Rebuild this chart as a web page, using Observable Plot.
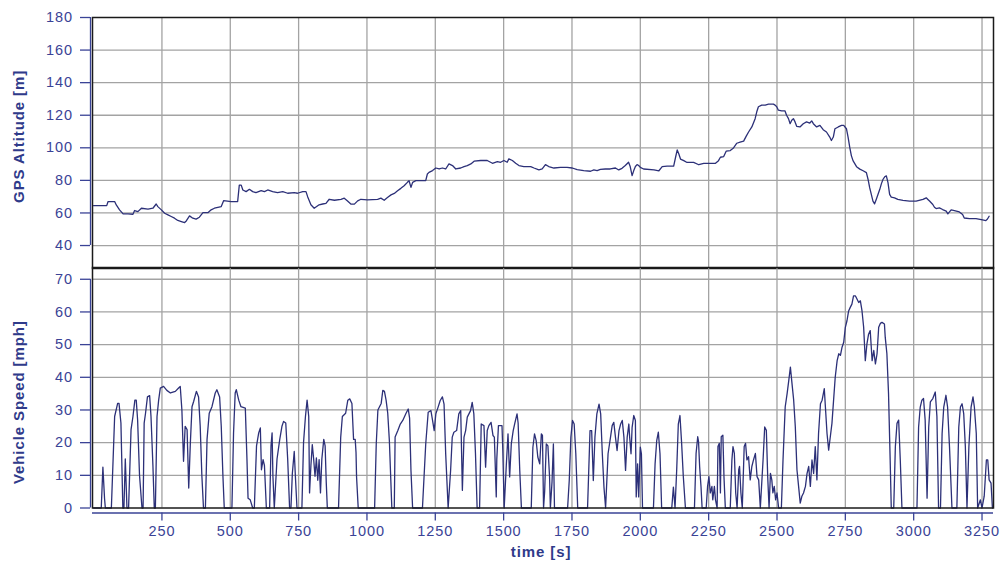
<!DOCTYPE html>
<html><head><meta charset="utf-8">
<script src="https://cdn.jsdelivr.net/npm/d3@7"></script>
<script src="https://cdn.jsdelivr.net/npm/@observablehq/plot@0.6"></script>
<style>
html,body{margin:0;padding:0;background:#fff;}
#wrap{position:relative;width:1001px;height:563px;overflow:hidden;background:#fff;}
#wrap svg{position:absolute;left:0;}
#wrap svg text{letter-spacing:0.9px;}
</style></head><body><div id="wrap"></div>
<script>
// ---- data ----
const timeTicks = [250,500,750,1000,1250,1500,1750,2000,2250,2500,2750,3000,3250];
const altitudeTicks = [40,60,80,100,120,140,160,180];
const speedTicks = [0,10,20,30,40,50,60,70];

// GPS altitude [m] vs time [s]
const altitudeSeries = [
[0,64.5],[48,64.5],[53,67],[77,67],[83,64.9],[95,61.9],[108,59.4],[126,59.4],[144,59.2],[150,61.5],[162,60.8],[175,62.9],[199,62.3],[217,62.9],[229,65.5],[235,63.9],[248,61.9],[260,59.8],[272,58.8],[284,57.8],[296,56.8],[308,55.4],[321,54.7],[333,54.1],[339,55.1],[351,58.2],[363,56.8],[375,56.2],[387,57.4],[400,60.2],[418,60.2],[430,61.9],[442,62.9],[467,63.9],[476,67.6],[503,67],[527,67],[533,77.1],[540,77.1],[546,74.1],[558,73.1],[570,74.5],[582,73.1],[594,72.5],[613,73.7],[625,73.1],[637,74.1],[655,73.1],[673,72.5],[692,73.1],[710,72.1],[734,72.5],[746,72.1],[765,73.1],[777,73.1],[783,70],[795,65],[807,62.9],[825,65],[838,65.5],[850,65.9],[862,68.4],
[881,67.8],[905,68.4],[917,69.1],[929,67.4],[942,65.4],[954,65.4],[966,67.4],[978,68.4],[1002,68],[1039,68.4],[1051,69.1],[1063,67.8],[1075,69.5],[1088,71.1],[1100,72],[1112,73.6],[1124,75.1],[1136,76.7],[1148,78.8],[1154,79.8],[1161,75.7],[1167,78.8],[1179,79.8],[1215,79.8],[1221,83.9],[1227,84.9],[1240,86],[1252,87.6],[1264,87],[1276,87.6],[1288,87],[1300,90.1],[1313,89.1],[1325,87],[1343,87.6],[1355,88.5],[1367,89.1],[1380,90.1],[1392,91.8],[1416,92.2],[1440,92.2],[1459,90.5],[1477,91.5],[1489,91.1],[1501,92.2],[1513,91.1],[1519,93.2],[1532,92.2],[1544,90.5],[1556,89.1],[1574,88.5],[1599,88.5],[1611,87.6],[1629,86.4],[1641,87],[1653,89.7],[1665,88.5],[1684,87.6],[1708,88],[1732,88],[1751,87.6],[1769,86.6],[1793,86],[1818,85.6],[1830,86.4],[1842,86],[1854,86.8],[1872,87],[1890,87],[1909,87.6],[1921,86.4],[1933,87.4],[1945,89.1],[1957,91.1],[1963,88.5],[1970,82.9],[1976,86],[1982,88.5],[1988,89.7],[1994,89.1],[2000,88],[2012,87],
[2050,86.5],[2068,85.9],[2080,88.4],[2098,88.8],[2122,88.8],[2129,94.2],[2135,98.7],[2141,96.2],[2147,93.1],[2159,92.1],[2171,91],[2195,91],[2214,89.6],[2232,90.4],[2256,90.4],[2274,90.4],[2286,92.1],[2293,94.2],[2305,94.6],[2314,97.9],[2329,98.3],[2341,99.9],[2353,102.8],[2365,103.5],[2378,104.1],[2387,107],[2396,109.7],[2408,112.8],[2420,117.9],[2426,122.1],[2432,125.2],[2444,126.2],[2457,126.2],[2469,126.8],[2487,126.8],[2493,126.2],[2499,125.2],[2505,123.1],[2517,122.7],[2529,122.7],[2535,120],[2542,117.9],[2548,114.8],[2554,116.9],[2560,117.9],[2566,115.9],[2572,113.2],[2584,112.8],[2596,114.8],[2608,115.9],[2620,115.2],[2627,116.5],[2633,114.8],[2645,112.8],[2657,113.8],[2669,111.1],[2681,109.7],[2693,106.6],[2699,104.5],[2706,106.6],[2712,111.7],[2724,112.8],[2736,113.8],[2744,113.8],[2754,111.7],[2760,106.6],[2766,100.4],[2772,95.2],[2778,92.1],[2791,88.4],[2803,86.9],[2815,85.9],[2827,84.8],[2833,80.7],[2839,75.5],[2851,67.3],[2857,65.6],[2863,68.3],[2876,74.5],[2882,78],[2888,80.7],[2894,82.2],[2900,82.8],[2906,78.6],[2912,71.4],[2918,69.7],[2930,69.3],[2942,68.3],[2961,67.7],[2985,67.3],[3009,67.3],[3034,68.3],[3046,69.3],[3052,68.3],[3058,67.3],[3070,65.2],[3076,63.5],[3082,62.7],[3094,63.1],[3106,62.1],[3119,61.1],[3125,59.4],[3137,61.9],[3149,61.5],[3167,60.6],[3179,59],[3185,56.9],[3204,56.5],[3228,56.5],[3252,55.7],[3264,55.3],[3270,56.3],[3276,58]
];

// Vehicle speed [mph] vs time [s]
const speedSeries = [
[0,0],[28,0],[34,12.5],[40,3],[43,0],[65,0],[77,28],[88,32],[93,32],[100,26],[107,0],[111,0],[116,15],[122,0],[128,0],[137,24],[144,28],[151,33],[156,33],[161,27],[168,10],[177,0],[181,0],[185,26],[190,29],[197,34],[205,34.4],[210,28],[217,13],[222,0],[226,0],[232,28],[238,33],[244,36.7],[256,37.2],[268,36],[281,35.2],[299,35.7],[311,36.7],[317,37.2],[323,30],[329,14.3],[335,25],[342,24],[348,6.1],[354,20],[360,31],[366,32.6],[376,35.7],[384,34],[390,25],[396,10],[402,0],[409,0],[415,21],[423,29],[433,31],[445,35.2],[451,36.2],[461,34],[467,25],[473,10],[478,0],[506,0],[512,23],[518,35.2],[522,36.2],[531,33],[539,31],[555,30.6],[561,15],[565,3],[573,2.5],[582,0],[588,0],[596,19],[604,23],[610,24.5],[614,11.7],[620,14.8],[625,13],[632,0],[644,0],[649,19],[653,23],[656,9.7],[661,0],[671,15],[681,21],[689,25],[695,26.5],[703,26],[710,15],[717,0],[722,0],[727,10.5],[734,17.3],[738,10],[744,0],[762,0],[768,20],[775,28],[781,33],[787,28],[790,4.6],[795,13],[800,19.4],[805,15],[810,9.7],[815,15.3],[820,8.5],[825,14.8],[830,4.6],[835,15],[842,21],[847,19],[851,8],[855,0],
[896,0],[904,21.7],[910,28],[922,29],[930,33],[937,33.4],[945,32],[951,21],[957,21],[960,17],[962,9.5],[968,0],[1028,0],[1034,19.6],[1040,30],[1046,31],[1052,32],[1058,36],[1064,35.7],[1070,33],[1076,29],[1082,20.6],[1091,0],[1100,0],[1103,21.7],[1113,23.7],[1122,25.7],[1131,26.8],[1143,29],[1151,30.3],[1156,27.5],[1161,11.5],[1167,0],[1203,0],[1215,19.6],[1224,29.3],[1234,29.8],[1240,26.8],[1246,23.7],[1252,28.8],[1260,30.8],[1268,32.9],[1276,34],[1282,31.8],[1288,16.6],[1297,0],[1306,11.5],[1312,21.7],[1318,23.2],[1328,23.7],[1336,28.8],[1343,29.8],[1349,5.4],[1355,21.7],[1361,23.7],[1367,27.8],[1373,28.8],[1379,29.8],[1385,32.3],[1391,28.8],[1397,16.6],[1403,0],[1412,0],[1418,25.7],[1428,25.2],[1434,12.5],[1440,23.7],[1446,25.2],[1454,26.2],[1461,22.2],[1466,21.7],[1473,3.4],[1475,15],[1481,25.2],[1494,25.2],[1497,17.6],[1502,0],[1510,13.5],[1516,22.7],[1522,9.5],[1528,19.6],[1535,23.7],[1541,26],[1549,28.8],[1553,26],[1559,11.5],[1565,0],
[1601,0],[1607,18.6],[1613,22.7],[1619,20.6],[1625,15.6],[1632,13.5],[1638,22.7],[1642,22.2],[1646,0],[1650,5],[1656,19.6],[1662,19],[1668,9.5],[1671,0],[1677,8],[1682,19.6],[1686,0],[1734,0],[1740,8.4],[1746,21.7],[1752,26.8],[1758,25.7],[1764,16.6],[1771,0],[1807,0],[1816,23.7],[1822,23.7],[1828,8.4],[1834,21.7],[1841,28.8],[1849,31.8],[1855,28.8],[1861,16.6],[1867,6.4],[1873,0],[1882,16.6],[1891,21.7],[1897,25.2],[1903,26.2],[1909,21.7],[1915,17.6],[1922,23.7],[1928,25.7],[1934,26.8],[1940,21.7],[1946,11.5],[1952,21.7],[1958,25.7],[1961,21.7],[1966,16.6],[1970,24.7],[1976,28.3],[1982,26.8],[1985,3.4],[1990,13.5],[1994,3.4],[2000,18.6],[2004,16.6],[2008,0],[2048,0],[2054,13.5],[2060,20.6],[2066,23.2],[2072,16.6],[2078,0],[2115,0],[2121,6.4],[2127,0],[2133,11.5],[2139,25.7],[2145,28.3],[2151,20],[2157,10],[2165,0],
[2198,0],[2204,16.7],[2210,21.8],[2213,20.3],[2217,12.7],[2222,6.6],[2226,0],[2241,0],[2246,6.6],[2251,9.6],[2256,4.6],[2262,6.6],[2265,2.5],[2271,6.6],[2275,2.5],[2281,0],[2284,18.8],[2289,19.8],[2293,4.6],[2296,21.8],[2302,22.3],[2306,9.6],[2311,0],[2329,0],[2335,14.7],[2339,18.8],[2344,16.7],[2349,4.6],[2354,0],[2360,11.7],[2363,12.7],[2368,4.6],[2373,0],[2380,18.8],[2385,19.8],[2390,14.7],[2396,15.7],[2402,8.6],[2408,12.7],[2414,14.7],[2421,16.7],[2427,9.6],[2433,8.6],[2439,0],[2449,14.7],[2455,24.8],[2461,23.8],[2466,9.6],[2471,0],[2476,10.6],[2481,8.6],[2485,4.6],[2490,6.6],[2495,2.5],[2500,4.6],[2506,0],[2516,0],[2522,14.7],[2530,30.9],[2537,35],[2543,39],[2549,43.1],[2555,38],[2561,33],[2567,24.8],[2573,11.7],[2579,6.6],[2585,1.5],[2591,3.6],[2597,4.6],[2604,6.6],[2610,10.6],[2616,12.7],[2622,6.6],[2628,14.7],[2634,10.6],[2640,18.8],[2646,8.6],[2652,22.8],[2659,31.9],[2665,33],[2673,36.5],[2677,31],[2683,22.8],[2689,17.7],[2695,21.8],[2701,25.9],[2707,33],[2713,40],[2720,45.1],[2726,47.2],[2732,46.7],[2738,49.2],[2744,50.7],[2750,55.3],[2756,57.3],[2762,60.3],[2768,61.4],[2774,62.4],[2780,64.9],[2787,64.9],[2793,63.9],[2799,62.9],[2805,63.4],[2811,60.3],[2817,55.3],[2823,45.1],[2829,50.2],[2835,53.2],[2841,54.3],[2848,45.1],[2854,48.2],[2860,44.1],[2866,47.2],[2872,55.3],[2878,56.5],[2884,56.8],[2893,56.3],[2896,52.2],[2902,47.2],[2908,35],[2914,14.7],[2918,0],[2927,0],[2933,18.8],[2939,25.9],[2945,26.9],[2951,14.7],[2957,0],[3012,0],[3018,24.8],[3024,30.9],[3030,33],[3036,33.5],[3042,26.9],[3049,3],[3055,24.8],[3061,32.5],[3070,33.5],[3079,35.5],[3085,28],[3091,0],[3098,0],[3104,22.8],[3110,30.9],[3118,34.5],[3124,30.9],[3131,18.8],[3140,0],[3158,0],[3165,24.8],[3171,30.9],[3177,31.9],[3183,28.9],[3189,18.8],[3195,0],[3202,18.8],[3210,30.9],[3217,34],[3222,30.9],[3229,22.8],[3234,0],[3244,2.5],[3250,0],[3258,3.6],[3266,14.7],[3271,14.7],[3276,8.6],[3283,7.6],[3288,0]
];

// ---- styling ----
const lineColor = "#2c3078";
const axisColor = "#3a4396";
const titleColor = "#2f3a8a";
const gridColor = "#a3a3a3";
const fontFamily = "'Liberation Sans', Arial, Helvetica, sans-serif";
const xDomain = [-4, 3292];
const fmt = d => String(d);

const wrap = document.getElementById("wrap");

const topChart = Plot.plot({
  width: 1001, height: 268,
  marginLeft: 92, marginRight: 8, marginTop: 17, marginBottom: 0,
  x: {domain: xDomain, axis: null},
  y: {domain: [25.9, 180], axis: null},
  style: {fontFamily, fontSize: "14.5px", color: axisColor, background: "transparent", overflow: "visible"},
  marks: [
    Plot.gridX(timeTicks, {stroke: gridColor, strokeOpacity: 1, strokeWidth: 1.3}),
    Plot.gridY(altitudeTicks.filter(d => d < 180), {stroke: gridColor, strokeOpacity: 1, strokeWidth: 1.3}),
    Plot.line(altitudeSeries, {x: d => d[0], y: d => d[1], stroke: lineColor, strokeWidth: 1.3, strokeLinejoin: "round"}),
    Plot.frame({stroke: "#1a1a1a", strokeWidth: 1.5}),
    Plot.ruleX([xDomain[0]], {y1: 40, y2: 180, dx: -2, stroke: axisColor, strokeWidth: 1.3}),
    Plot.axisY(altitudeTicks, {anchor: "left", dx: -2, tickSize: 10, tickPadding: 7.5, tickFormat: fmt, label: null, fontSize: 14.5, fill: axisColor, stroke: axisColor, strokeWidth: 1.3}),
    Plot.text(["GPS Altitude [m]"], {x: xDomain[0], y: 107, dx: -73, rotate: -90, textAnchor: "middle", lineAnchor: "middle", fontWeight: "bold", fontSize: 15, fill: titleColor})
  ]
});
topChart.style.top = "0px";
wrap.appendChild(topChart);

const bottomChart = Plot.plot({
  width: 1001, height: 296,
  marginLeft: 92, marginRight: 8, marginTop: 0, marginBottom: 55.5,
  x: {domain: xDomain, axis: null},
  y: {domain: [0, 73.6], axis: null},
  style: {fontFamily, fontSize: "14.5px", color: axisColor, background: "transparent", overflow: "visible"},
  marks: [
    Plot.gridX(timeTicks, {stroke: gridColor, strokeOpacity: 1, strokeWidth: 1.3}),
    Plot.gridY(speedTicks.filter(d => d > 0), {stroke: gridColor, strokeOpacity: 1, strokeWidth: 1.3}),
    Plot.line(speedSeries, {x: d => d[0], y: d => d[1], stroke: lineColor, strokeWidth: 1.3, strokeLinejoin: "round"}),
    Plot.frame({stroke: "#1a1a1a", strokeWidth: 1.5}),
    Plot.ruleX([xDomain[0]], {y1: 0, y2: 70, dx: -2, stroke: axisColor, strokeWidth: 1.3}),
    Plot.axisY(speedTicks, {anchor: "left", dx: -2, tickSize: 10, tickPadding: 7.5, tickFormat: fmt, label: null, fontSize: 14.5, fill: axisColor, stroke: axisColor, strokeWidth: 1.3}),
    Plot.ruleY([0], {dy: 5, stroke: axisColor, strokeWidth: 1.3}),
    Plot.axisX(timeTicks, {anchor: "bottom", dy: 5, tickSize: 8, tickPadding: 5, tickFormat: fmt, label: null, fontSize: 14.5, fill: axisColor, stroke: axisColor, strokeWidth: 1.3}),
    Plot.text(["Vehicle Speed [mph]"], {x: xDomain[0], y: 32.4, dx: -73, rotate: -90, textAnchor: "middle", lineAnchor: "middle", fontWeight: "bold", fontSize: 15, fill: titleColor}),
    Plot.text(["time [s]"], {frameAnchor: "bottom", dx: -2, dy: 38, textAnchor: "middle", lineAnchor: "top", fontWeight: "bold", fontSize: 15, fill: titleColor})
  ]
});
bottomChart.style.top = "267px";
wrap.appendChild(bottomChart);
</script></body></html>
